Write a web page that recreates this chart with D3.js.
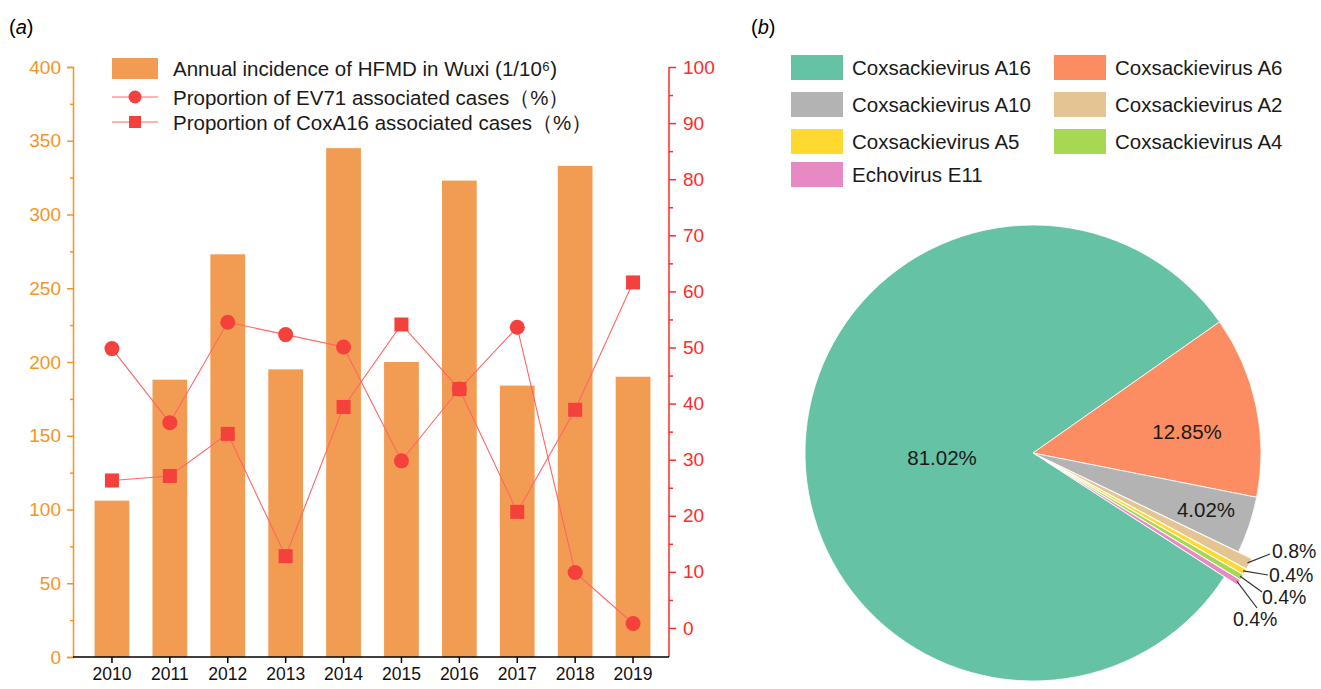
<!DOCTYPE html>
<html>
<head>
<meta charset="utf-8">
<script src="https://cdn.jsdelivr.net/npm/d3@7"></script>
<style>
  body { margin: 0; background: #fff; }
  svg { font-family: "Liberation Sans", Arial, sans-serif; }
</style>
</head>
<body>
<svg id="chart" width="1321" height="689"></svg>
<script>
// Panel (a) data
const years = [2010, 2011, 2012, 2013, 2014, 2015, 2016, 2017, 2018, 2019];
const incidence = [106, 188, 273, 195, 345, 200, 323, 184, 333, 190];
const ev71Share = [49.8, 36.6, 54.5, 52.3, 50.1, 29.8, 42.6, 53.6, 9.9, 0.8];
const coxA16Share = [26.3, 27.1, 34.6, 12.8, 39.4, 54.1, 42.6, 20.7, 38.9, 61.6];
const leftTicks = [0, 50, 100, 150, 200, 250, 300, 350, 400];
const rightTicks = [0, 10, 20, 30, 40, 50, 60, 70, 80, 90, 100];
const legendA = ["Annual incidence of HFMD in Wuxi (1/10\u2076)",
                 "Proportion of EV71 associated cases\uff08%\uff09",
                 "Proportion of CoxA16 associated cases\uff08%\uff09"];

// Panel (b) data
const virusNames = ["Coxsackievirus A16", "Coxsackievirus A6", "Coxsackievirus A10",
                    "Coxsackievirus A2", "Coxsackievirus A5", "Coxsackievirus A4", "Echovirus E11"];
const virusShares = [81.02, 12.85, 4.02, 0.8, 0.4, 0.4, 0.4];
const virusLabels = ["81.02%", "12.85%", "4.02%", "0.8%", "0.4%", "0.4%", "0.4%"];
const virusColors = ["#66c2a5", "#fc8d62", "#b3b3b3", "#e5c494", "#ffd92f", "#a6d854", "#e78ac3"];

const svg = d3.select("#chart");

const barColor = "#f29b52";
const leftColor = "#f7941d";
const rightColor = "#ff2a2a";
const lineColor = "#ff6666";
const markColor = "#f5413c";
const fontFam = "Liberation Sans, Arial, sans-serif";

//---------------- panel (a) ----------------
let x = d3.scaleBand().domain(years).range([83, 662]).paddingInner(0.4).paddingOuter(0.2);
let yL = d3.scaleLinear().domain([0, 400]).range([657, 67]);
let yR = d3.scaleLinear().domain([0, 100]).range([628, 67]);

svg.append("text").attr("x", 9).attr("y", 34).attr("font-size", 20)
    .html('(<tspan font-style="italic">a</tspan>)');

// bars
svg.append("g").selectAll("rect")
    .data(incidence)
    .enter()
    .append("rect")
    .attr("x", (d, i) => x(years[i]))
    .attr("y", d => yL(d))
    .attr("width", x.bandwidth())
    .attr("height", d => yL(0) - yL(d))
    .attr("fill", barColor);

// lines
let cx = (d, i) => x(years[i]) + x.bandwidth() / 2;
let line = d3.line().x(cx).y(d => yR(d));

svg.append("path").datum(ev71Share).attr("d", line)
    .attr("fill", "none").attr("stroke", lineColor).attr("stroke-width", 1.1);
svg.append("path").datum(coxA16Share).attr("d", line)
    .attr("fill", "none").attr("stroke", lineColor).attr("stroke-width", 1.1);

svg.append("g").selectAll("rect")
    .data(coxA16Share)
    .enter()
    .append("rect")
    .attr("x", (d, i) => cx(d, i) - 7)
    .attr("y", d => yR(d) - 7)
    .attr("width", 14).attr("height", 14)
    .attr("fill", markColor);

svg.append("g").selectAll("circle")
    .data(ev71Share)
    .enter()
    .append("circle")
    .attr("cx", cx)
    .attr("cy", d => yR(d))
    .attr("r", 7.5)
    .attr("fill", markColor);

// left axis
let gL = svg.append("g").attr("class", "laxis").attr("transform", "translate(73,0)")
    .call(d3.axisLeft(yL).tickValues(leftTicks).tickSize(6).tickPadding(6));
svg.append("g").attr("class", "laxis").attr("transform", "translate(73,0)")
    .call(d3.axisLeft(yL).tickValues(d3.range(25, 400, 50)).tickSize(3).tickFormat(""))
    .select(".domain").remove();
svg.selectAll(".laxis").selectAll("line, path").attr("stroke", leftColor).attr("stroke-width", 1.5);
gL.selectAll("text").attr("fill", leftColor).attr("font-size", 19).attr("font-family", fontFam);

// right axis
let gR = svg.append("g").attr("class", "raxis").attr("transform", "translate(669,0)")
    .call(d3.axisRight(yR).tickValues(rightTicks).tickSize(7).tickPadding(7));
gR.select(".domain").remove();
let gR2 = svg.append("g").attr("class", "raxis").attr("transform", "translate(669,0)")
    .call(d3.axisRight(yR).tickValues(d3.range(5, 100, 10)).tickSize(4).tickFormat(""));
gR2.select(".domain").remove();
svg.append("line").attr("x1", 669).attr("x2", 669).attr("y1", 67).attr("y2", 657)
    .attr("stroke", rightColor).attr("stroke-width", 1.5);
svg.selectAll(".raxis").selectAll("line").attr("stroke", rightColor).attr("stroke-width", 1.5);
gR.selectAll("text").attr("fill", rightColor).attr("font-size", 19).attr("font-family", fontFam);

// x axis
let gX = svg.append("g").attr("transform", "translate(0,657)")
    .call(d3.axisBottom(x).tickSize(6).tickPadding(5));
gX.select(".domain").remove();
gX.selectAll("line").attr("stroke", "#000").attr("stroke-width", 1.5);
gX.selectAll("text").attr("fill", "#111").attr("font-size", 17.5).attr("font-family", fontFam);
svg.append("line").attr("x1", 73).attr("x2", 669).attr("y1", 657).attr("y2", 657)
    .attr("stroke", "#000").attr("stroke-width", 1.5);

// legend (a)
let legA = svg.append("g");
legA.append("rect").attr("x", 112).attr("y", 58).attr("width", 46).attr("height", 21).attr("fill", barColor);
[97, 122].forEach((yy, i) => {
    legA.append("line").attr("x1", 112).attr("x2", 158).attr("y1", yy).attr("y2", yy)
        .attr("stroke", lineColor).attr("stroke-width", 1.1);
    if (i === 0) {
        legA.append("circle").attr("cx", 135).attr("cy", yy).attr("r", 6.5).attr("fill", markColor);
    } else {
        legA.append("rect").attr("x", 129).attr("y", yy - 6).attr("width", 12).attr("height", 12).attr("fill", markColor);
    }
});
legA.selectAll("text.lg")
    .data(legendA)
    .enter()
    .append("text")
    .attr("x", 173)
    .attr("y", (d, i) => [69, 98, 123][i])
    .attr("dy", "0.35em")
    .attr("font-size", 20.5)
    .attr("fill", "#1a1a1a")
    .text(d => d);

//---------------- panel (b) ----------------
svg.append("text").attr("x", 751).attr("y", 34).attr("font-size", 20)
    .html('(<tspan font-style="italic">b</tspan>)');

// legend (b)
let legB = svg.append("g");
let legItems = legB.selectAll("g")
    .data(virusNames)
    .enter()
    .append("g")
    .attr("transform", (d, i) => {
        let col = [0, 1, 0, 1, 0, 1, 0][i];
        let row = [0, 0, 1, 1, 2, 2, 3][i];
        return "translate(" + (col ? 1054 : 791) + "," + [55, 92, 129, 162][row] + ")";
    });
legItems.append("rect").attr("width", 52).attr("height", 25)
    .attr("fill", (d, i) => virusColors[i]);
legItems.append("text").attr("x", 61).attr("y", 13).attr("dy", "0.35em")
    .attr("font-size", 20.5).attr("fill", "#1a1a1a")
    .text(d => d);

// pie
const pcx = 1033, pcy = 453, pr = 228;
let startA = 122.9 * Math.PI / 180;
let pie = d3.pie().sort(null).value(d => d).startAngle(startA).endAngle(startA + 2 * Math.PI);
let arcs = pie(virusShares);
let arc = d3.arc().innerRadius(0).outerRadius(pr);

let explode = (d, i) => {
    if (i < 3) return [0, 0];
    let a = (d.startAngle + d.endAngle) / 2;
    return [Math.sin(a) * 15, -Math.cos(a) * 15];
};

let pieG = svg.append("g").attr("transform", "translate(" + pcx + "," + pcy + ")");
pieG.selectAll("path")
    .data(arcs)
    .enter()
    .append("path")
    .attr("d", arc)
    .attr("transform", (d, i) => "translate(" + explode(d, i) + ")")
    .attr("fill", (d, i) => virusColors[i])
    .attr("stroke", "#fff")
    .attr("stroke-width", 0.8);

// big labels inside (offsets from pie centre)
const insidePos = [[-91, 5], [154, -21], [173, 57]];
insidePos.forEach((p, i) => {
    pieG.append("text")
        .attr("x", p[0])
        .attr("y", p[1])
        .attr("text-anchor", "middle")
        .attr("dy", "0.35em")
        .attr("font-size", 20.5)
        .attr("fill", "#1a1a1a")
        .text(virusLabels[i]);
});

// small labels with leader lines
const leaderEnd = [[237, 101], [235, 122], [229, 139], [224, 155]];
const labelPos = [[239, 98], [236, 122], [229, 144], [200, 166]];
arcs.slice(3).forEach((d, k) => {
    let i = k + 3;
    let a = (d.startAngle + d.endAngle) / 2;
    let off = explode(d, i);
    let sx = Math.sin(a) * (pr - 2) + off[0];
    let sy = -Math.cos(a) * (pr - 2) + off[1];
    pieG.append("line")
        .attr("x1", sx).attr("y1", sy)
        .attr("x2", leaderEnd[k][0]).attr("y2", leaderEnd[k][1])
        .attr("stroke", "#333").attr("stroke-width", 1.2);
    pieG.append("text")
        .attr("x", labelPos[k][0]).attr("y", labelPos[k][1])
        .attr("dy", "0.35em")
        .attr("font-size", 19.5)
        .attr("fill", "#1a1a1a")
        .text(virusLabels[i]);
});
</script>
</body>
</html>
